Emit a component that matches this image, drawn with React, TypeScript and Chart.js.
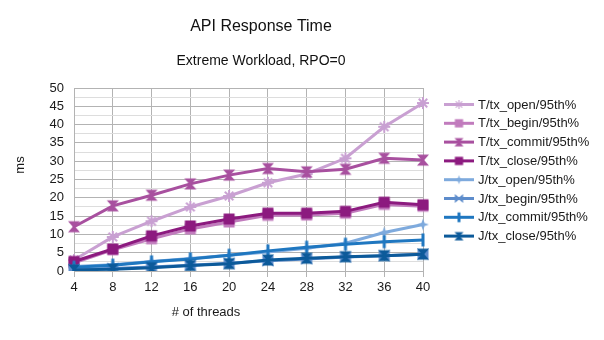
import React, { useEffect, useRef } from 'react';
import { Chart, registerables } from 'chart.js';
Chart.register(...registerables);

const threads = ['4', '8', '12', '16', '20', '24', '28', '32', '36', '40'];
const tOpen = [3.0, 9.3, 13.6, 17.5, 20.5, 24.1, 26.5, 30.8, 39.4, 45.9];
const tBegin = [2.2, 5.8, 8.8, 11.5, 13.4, 15.2, 15.3, 15.8, 18.2, 17.7];
const tCommit = [12.1, 17.8, 20.7, 23.8, 26.2, 28.0, 27.1, 27.8, 30.8, 30.3];
const tClose = [2.6, 6.0, 9.6, 12.3, 14.2, 15.8, 15.8, 16.3, 18.8, 18.1];
const jOpen = [1.2, 1.7, 2.6, 3.4, 4.3, 5.2, 6.2, 7.6, 10.5, 12.7];
const jBegin = [0.5, 0.7, 1.1, 1.6, 2.1, 2.8, 3.3, 3.8, 4.2, 4.6];
const jCommit = [1.0, 1.6, 2.5, 3.3, 4.3, 5.5, 6.5, 7.3, 8.0, 8.5];
const jClose = [0.3, 0.5, 0.9, 1.5, 2.0, 3.0, 3.5, 3.9, 4.2, 4.6];
const seriesNames = [
  'T/tx_open/95th%', 'T/tx_begin/95th%', 'T/tx_commit/95th%', 'T/tx_close/95th%',
  'J/tx_open/95th%', 'J/tx_begin/95th%', 'J/tx_commit/95th%', 'J/tx_close/95th%',
];
const seriesData = [tOpen, tBegin, tCommit, tClose, jOpen, jBegin, jCommit, jClose];
const seriesColors = ['#c9a0d2', '#c17bbd', '#a8509f', '#8c1a7f', '#7eaadd', '#5d8ccb', '#1f77c0', '#0c5a9a'];
const seriesMarkers = ['star', 'square', 'hourglass', 'square', 'star4', 'bowtie', 'vbar', 'hourglass'];

const FONT = "'Liberation Sans', Arial, sans-serif";

function makeMarker(kind: string, color: string, s: number): HTMLCanvasElement {
  const size = Math.ceil(14 * s) + 2;
  const c = document.createElement('canvas');
  c.width = size;
  c.height = size;
  const ctx = c.getContext('2d')!;
  ctx.translate(size / 2, size / 2);
  ctx.fillStyle = color;
  ctx.strokeStyle = color;
  const r = 6 * s;
  if (kind === 'square') {
    const h = 5.5 * s;
    ctx.fillRect(-h, -h, 2 * h, 2 * h);
  } else if (kind === 'star') {
    ctx.lineWidth = s < 1 ? 1.1 : 2;
    for (let i = 0; i < 4; i++) {
      const a = (i * Math.PI) / 4;
      ctx.beginPath();
      ctx.moveTo(-Math.cos(a) * r, -Math.sin(a) * r);
      ctx.lineTo(Math.cos(a) * r, Math.sin(a) * r);
      ctx.stroke();
    }
  } else if (kind === 'hourglass' || kind === 'bowtie') {
    if (kind === 'bowtie') ctx.rotate(Math.PI / 2);
    const w = 6 * s;
    const h = 5.5 * s;
    ctx.beginPath();
    ctx.moveTo(-w, -h);
    ctx.lineTo(w, -h);
    ctx.lineTo(1.2 * s, 0);
    ctx.lineTo(w, h);
    ctx.lineTo(-w, h);
    ctx.lineTo(-1.2 * s, 0);
    ctx.closePath();
    ctx.fill();
  } else if (kind === 'star4') {
    const a = 1.6 * s;
    ctx.beginPath();
    ctx.moveTo(0, -r);
    ctx.lineTo(a, -a);
    ctx.lineTo(r, 0);
    ctx.lineTo(a, a);
    ctx.lineTo(0, r);
    ctx.lineTo(-a, a);
    ctx.lineTo(-r, 0);
    ctx.lineTo(-a, -a);
    ctx.closePath();
    ctx.fill();
  } else if (kind === 'vbar') {
    ctx.fillRect(-1.5, -6.5 * s, 3, 13 * s);
  }
  return c;
}

export default function App() {
  const ref = useRef<HTMLCanvasElement>(null);
  useEffect(() => {
    document.body.style.margin = '0';
    const canvas = ref.current!;
    const chartMarkers = seriesMarkers.map((m, i) => makeMarker(m, seriesColors[i], 1));
    const legendMarkers = seriesMarkers.map((m, i) => makeMarker(m, seriesColors[i], 0.75));

    const extras = {
      id: 'extras',
      afterDraw(chart: any) {
        const ctx = chart.ctx;
        ctx.save();
        ctx.fillStyle = '#1a1a1a';
        ctx.font = `13px ${FONT}`;
        ctx.textAlign = 'center';
        ctx.textBaseline = 'middle';
        ctx.fillText('# of threads', 206, 312);
        ctx.save();
        ctx.translate(20, 165);
        ctx.rotate(-Math.PI / 2);
        ctx.fillText('ms', 0, 0);
        ctx.restore();
        // legend
        const x0 = 444;
        const y0 = 104.5;
        const dy = 18.8;
        ctx.textAlign = 'left';
        seriesNames.forEach((name, i) => {
          const y = y0 + i * dy;
          ctx.strokeStyle = seriesColors[i];
          ctx.lineWidth = 3;
          ctx.beginPath();
          ctx.moveTo(x0, y);
          ctx.lineTo(x0 + 30, y);
          ctx.stroke();
          const m = legendMarkers[i];
          ctx.drawImage(m, x0 + 15 - m.width / 2, y - m.height / 2);
          ctx.fillStyle = '#1a1a1a';
          ctx.fillText(name, x0 + 34, y + 0.5);
        });
        ctx.restore();
      },
    };

    const chart = new Chart(canvas, {
      type: 'line',
      data: {
        labels: threads,
        datasets: seriesData.map((d, i) => ({
          label: seriesNames[i],
          data: d,
          borderColor: seriesColors[i],
          backgroundColor: seriesColors[i],
          borderWidth: 3,
          pointStyle: chartMarkers[i] as any,
          pointRadius: 6,
          tension: 0,
          order: 8 - i,
          yAxisID: 'y',
        })),
      },
      options: {
        animation: false,
        responsive: false,
        layout: { padding: { left: 0, right: 82, top: 0, bottom: 0 } },
        plugins: {
          legend: { display: false },
          tooltip: { enabled: false },
          title: {
            display: true,
            text: 'API Response Time',
            color: '#111',
            font: { family: FONT, size: 16, weight: 'normal' },
            padding: { top: 17.4, bottom: 8 },
          },
          subtitle: {
            display: true,
            text: 'Extreme Workload, RPO=0',
            color: '#111',
            font: { family: FONT, size: 14, weight: 'normal' },
            padding: { top: 8, bottom: 18.6 },
          },
        },
        scales: {
          x: {
            offset: false,
            grid: { color: '#b3b3b3', tickLength: 6, drawTicks: true },
            border: { color: '#b3b3b3' },
            ticks: { color: '#1a1a1a', font: { family: FONT, size: 13 }, padding: 3, maxRotation: 0 },
            afterFit: (s: any) => { s.height = 69; },
          },
          y: {
            min: 0,
            max: 50,
            grid: {
              drawTicks: false,
              color: (c: any) => (c.tick && Math.abs(c.tick.value % 5) < 1e-6 ? '#b3b3b3' : '#dddddd'),
            },
            border: { color: '#b3b3b3' },
            ticks: {
              stepSize: 2.5,
              autoSkip: false,
              padding: 10,
              color: '#1a1a1a',
              font: { family: FONT, size: 13 },
              callback: (v: any) => (Math.abs(Number(v) % 5) < 1e-6 ? String(v) : ''),
            },
            afterFit: (s: any) => { s.width = 74; },
          },
          y2: {
            position: 'right',
            min: 0,
            max: 50,
            grid: { display: false, drawOnChartArea: false },
            border: { display: false },
            ticks: { display: false },
            afterFit: (s: any) => { s.width = 99; },
          },
        },
      } as any,
      plugins: [extras],
    });
    return () => chart.destroy();
  }, []);
  return <canvas ref={ref} width={604} height={340} style={{ display: 'block' }} />;
}
